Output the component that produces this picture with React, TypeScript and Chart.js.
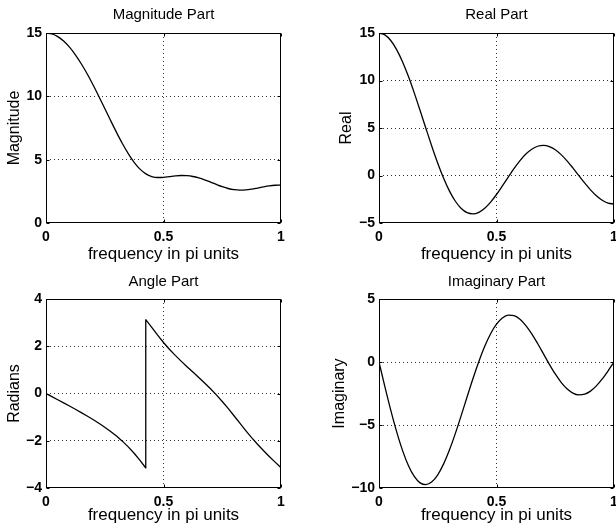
import React, { useEffect, useRef } from "react";
import { Chart, registerables } from "chart.js";

Chart.register(...registerables);

// ---- data ----
const freq = [0, 0.025, 0.05, 0.075, 0.1, 0.125, 0.15, 0.175, 0.2, 0.225, 0.25, 0.275, 0.3, 0.325, 0.35, 0.375, 0.4, 0.425, 0.45, 0.475, 0.5, 0.525, 0.55, 0.575, 0.6, 0.625, 0.65, 0.675, 0.7, 0.725, 0.75, 0.775, 0.8, 0.825, 0.85, 0.875, 0.9, 0.925, 0.95, 0.975, 1];

const magnitude = [15, 14.928, 14.714, 14.363, 13.882, 13.281, 12.575, 11.779, 10.911, 9.991, 9.043, 8.089, 7.158, 6.277, 5.478, 4.793, 4.253, 3.878, 3.666, 3.591, 3.606, 3.662, 3.719, 3.749, 3.735, 3.672, 3.561, 3.41, 3.232, 3.045, 2.869, 2.724, 2.629, 2.591, 2.61, 2.673, 2.76, 2.851, 2.93, 2.982, 3];

const realPart = [15, 14.8, 14.21, 13.256, 11.979, 10.437, 8.697, 6.834, 4.927, 3.055, 1.293, -0.291, -1.64, -2.711, -3.474, -3.917, -4.045, -3.877, -3.448, -2.804, -2, -1.097, -0.16, 0.749, 1.573, 2.26, 2.771, 3.079, 3.168, 3.04, 2.707, 2.197, 1.545, 0.798, 0.005, -0.78, -1.507, -2.127, -2.602, -2.899, -3];

const imagPart = [0, -1.95, -3.819, -5.53, -7.014, -8.213, -9.083, -9.594, -9.735, -9.513, -8.95, -8.084, -6.967, -5.662, -4.236, -2.763, -1.314, 0.041, 1.244, 2.242, 3, 3.494, 3.716, 3.673, 3.388, 2.894, 2.236, 1.466, 0.641, -0.183, -0.95, -1.611, -2.127, -2.466, -2.61, -2.556, -2.312, -1.898, -1.347, -0.698, 0];

const angleFreq = [0, 0.025, 0.05, 0.075, 0.1, 0.125, 0.15, 0.175, 0.2, 0.225, 0.25, 0.275, 0.3, 0.325, 0.35, 0.375, 0.4, 0.424, 0.424, 0.425, 0.45, 0.475, 0.5, 0.525, 0.55, 0.575, 0.6, 0.625, 0.65, 0.675, 0.7, 0.725, 0.75, 0.775, 0.8, 0.825, 0.85, 0.875, 0.9, 0.925, 0.95, 0.975, 1];

const angleRad = [0, -0.131, -0.263, -0.395, -0.53, -0.667, -0.807, -0.953, -1.102, -1.26, -1.427, -1.607, -1.802, -2.017, -2.258, -2.529, -2.827, -3.142, 3.142, 3.131, 2.796, 2.467, 2.159, 1.875, 1.614, 1.37, 1.136, 0.908, 0.679, 0.445, 0.2, -0.06, -0.337, -0.633, -0.943, -1.258, -1.569, -1.867, -2.148, -2.413, -2.664, -2.905, -3.142];

const xTickValues = [0, 0.5, 1];
const xTickLabels = ["0", "0.5", "1"];
const magTickValues = [0, 5, 10, 15];
const magTickLabels = ["0", "5", "10", "15"];
const realTickValues = [-5, 0, 5, 10, 15];
const realTickLabels = ["\u22125", "0", "5", "10", "15"];
const angleTickValues = [-4, -2, 0, 2, 4];
const angleTickLabels = ["\u22124", "\u22122", "0", "2", "4"];
const imagTickValues = [-10, -5, 0, 5];
const imagTickLabels = ["\u221210", "\u22125", "0", "5"];

const xLabel = "frequency in pi units";

// ---- layout ----
const FONT = "'Liberation Sans', Arial, Helvetica, sans-serif";
const W = 630;
const H = 526;
const TITLE_SIZE = 15;
const XLABEL_SIZE = 17;
const YLABEL_SIZE = 16;
const TICK_SIZE = 14;

type Panel = {
  title: string;
  yLabel: string;
  xs: number[];
  ys: number[];
  yTicks: number[];
  yTickLabels: string[];
  smooth: boolean;
  area: { l: number; t: number; r: number; b: number };
  titleY: number;
  yLabelX: number;
  xLabelY: number;
};

const panels: Panel[] = [
  { title: "Magnitude Part", yLabel: "Magnitude", xs: freq, ys: magnitude, yTicks: magTickValues, yTickLabels: magTickLabels, smooth: true, area: { l: 46, t: 33, r: 281, b: 223 }, titleY: 15, yLabelX: 15, xLabelY: 254 },
  { title: "Real Part", yLabel: "Real", xs: freq, ys: realPart, yTicks: realTickValues, yTickLabels: realTickLabels, smooth: true, area: { l: 379, t: 33, r: 614, b: 223 }, titleY: 15, yLabelX: 347, xLabelY: 254 },
  { title: "Angle Part", yLabel: "Radians", xs: angleFreq, ys: angleRad, yTicks: angleTickValues, yTickLabels: angleTickLabels, smooth: false, area: { l: 46, t: 299, r: 281, b: 488 }, titleY: 282, yLabelX: 15, xLabelY: 516 },
  { title: "Imaginary Part", yLabel: "Imaginary", xs: freq, ys: imagPart, yTicks: imagTickValues, yTickLabels: imagTickLabels, smooth: true, area: { l: 379, t: 299, r: 614, b: 488 }, titleY: 282, yLabelX: 340, xLabelY: 516 },
];

const boxPlugin = {
  id: "matlabBox",
  afterDraw(chart: any) {
    const { ctx, chartArea: ca } = chart;
    const xs = chart.scales.x;
    const ys = chart.scales.y;
    const L = Math.round(ca.left) + 0.5;
    const R = Math.round(ca.right) - 0.5;
    const T = Math.round(ca.top) + 0.5;
    const B = Math.round(ca.bottom) - 0.5;
    ctx.save();
    ctx.setLineDash([]);
    ctx.strokeStyle = "#000";
    ctx.lineWidth = 1;
    ctx.strokeRect(L, T, R - L, B - T);
    const tl = 3;
    ctx.beginPath();
    for (const t of xs.ticks) {
      const px = Math.round(xs.getPixelForValue(t.value)) + 0.5;
      ctx.moveTo(px, B);
      ctx.lineTo(px, B - tl);
      ctx.moveTo(px, T);
      ctx.lineTo(px, T + tl);
    }
    for (const t of ys.ticks) {
      const py = Math.round(ys.getPixelForValue(t.value)) + 0.5;
      ctx.moveTo(L, py);
      ctx.lineTo(L + tl, py);
      ctx.moveTo(R, py);
      ctx.lineTo(R - tl, py);
    }
    ctx.stroke();
    ctx.restore();
  },
};

function gridColor(c: any) {
  const n = c.scale.ticks.length;
  return c.index === 0 || c.index === n - 1 ? "rgba(0,0,0,0)" : "#333";
}

function makeConfig(p: Panel): any {
  const a = p.area;
  const yLH = YLABEL_SIZE * 1.2;
  const tLH = TITLE_SIZE * 1.2;
  const xLH = XLABEL_SIZE * 1.2;
  const padL = Math.round(p.yLabelX - yLH / 2);
  const yW = a.l - padL;
  const padT = p.titleY - tLH / 2;
  const titlePadBottom = a.t - padT - tLH;
  const xH = Math.min(45, H - a.b);
  const padB = H - a.b - xH;
  const xTitlePadBottom = Math.max(0, a.b + xH - xLH / 2 - p.xLabelY);
  const padR = W - a.r;

  return {
    type: "line",
    data: {
      datasets: [
        {
          data: p.xs.map((x, i) => ({ x, y: p.ys[i] })),
          borderColor: "#000",
          borderWidth: 1.3,
          pointRadius: 0,
          fill: false,
          tension: 0,
          cubicInterpolationMode: p.smooth ? "monotone" : "default",
        },
      ],
    },
    options: {
      animation: false,
      responsive: false,
      events: [],
      layout: { padding: { left: padL, right: padR, top: padT, bottom: padB } },
      plugins: {
        legend: { display: false },
        tooltip: { enabled: false },
        title: {
          display: true,
          text: p.title,
          fullSize: false,
          color: "#000",
          font: { family: FONT, size: TITLE_SIZE, weight: "normal" },
          padding: { top: 0, bottom: titlePadBottom },
        },
      },
      scales: {
        x: {
          type: "linear",
          min: 0,
          max: 1,
          afterBuildTicks: (s: any) => {
            s.ticks = xTickValues.map((v) => ({ value: v }));
          },
          afterFit: (s: any) => {
            s.height = xH;
          },
          ticks: {
            autoSkip: false,
            maxRotation: 0,
            minRotation: 0,
            padding: 6,
            color: "#000",
            font: { family: FONT, size: TICK_SIZE, weight: "bold" },
            callback: (_v: any, i: number) => xTickLabels[i],
          },
          grid: { color: gridColor, lineWidth: 1, drawTicks: false },
          border: { display: false, dash: [1, 3] },
          title: {
            display: true,
            text: xLabel,
            color: "#000",
            font: { family: FONT, size: XLABEL_SIZE, weight: "normal" },
            padding: { top: 0, bottom: xTitlePadBottom },
          },
        },
        y: {
          type: "linear",
          min: p.yTicks[0],
          max: p.yTicks[p.yTicks.length - 1],
          afterBuildTicks: (s: any) => {
            s.ticks = p.yTicks.map((v) => ({ value: v }));
          },
          afterFit: (s: any) => {
            s.width = yW;
          },
          ticks: {
            autoSkip: false,
            padding: 4,
            color: "#000",
            font: { family: FONT, size: TICK_SIZE, weight: "bold" },
            callback: (_v: any, i: number) => p.yTickLabels[i],
          },
          grid: { color: gridColor, lineWidth: 1, drawTicks: false },
          border: { display: false, dash: [1, 3] },
          title: {
            display: true,
            text: p.yLabel,
            color: "#000",
            font: { family: FONT, size: YLABEL_SIZE, weight: "normal" },
            padding: { top: 0, bottom: 0 },
          },
        },
      },
    },
    plugins: [boxPlugin],
  };
}

export default function App() {
  const refs = useRef<(HTMLCanvasElement | null)[]>([]);
  useEffect(() => {
    const charts = panels.map((p, i) => new Chart(refs.current[i] as HTMLCanvasElement, makeConfig(p)));
    return () => charts.forEach((c) => c.destroy());
  }, []);
  return (
    <div style={{ position: "fixed", left: 0, top: 0, width: 616, height: 526, overflow: "hidden", background: "#fff" }}>
      {panels.map((p, i) => (
        <canvas
          key={p.title}
          ref={(el) => {
            refs.current[i] = el;
          }}
          width={W}
          height={H}
          style={{ position: "absolute", left: 0, top: 0, width: W, height: H }}
        />
      ))}
    </div>
  );
}
